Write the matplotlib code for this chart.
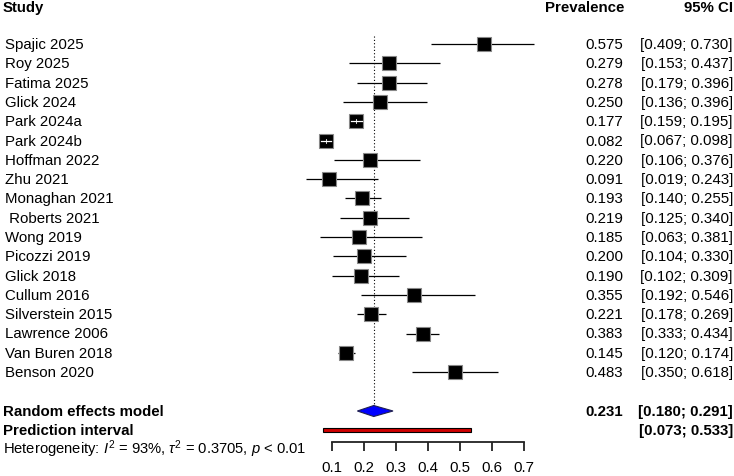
import matplotlib
matplotlib.use("Agg")
import matplotlib.pyplot as plt
from matplotlib.patches import Polygon, Rectangle

plt.rcParams['font.family'] = ['Liberation Sans', 'DejaVu Sans']
plt.rcParams['mathtext.fontset'] = 'custom'
plt.rcParams['mathtext.rm'] = 'Liberation Sans'
plt.rcParams['mathtext.it'] = 'Liberation Sans:italic'

# study data
studies = ["Spajic 2025", "Roy 2025", "Fatima 2025", "Glick 2024", "Park 2024a",
           "Park 2024b", "Hoffman 2022", "Zhu 2021", "Monaghan 2021", " Roberts 2021",
           "Wong 2019", "Picozzi 2019", "Glick 2018", "Cullum 2016", "Silverstein 2015",
           "Lawrence 2006", "Van Buren 2018", "Benson 2020"]
prev = [0.575, 0.279, 0.278, 0.250, 0.177, 0.082, 0.220, 0.091, 0.193, 0.219,
        0.185, 0.200, 0.190, 0.355, 0.221, 0.383, 0.145, 0.483]
lower = [0.409, 0.153, 0.179, 0.136, 0.159, 0.067, 0.106, 0.019, 0.140, 0.125,
         0.063, 0.104, 0.102, 0.192, 0.178, 0.333, 0.120, 0.350]
upper = [0.730, 0.437, 0.396, 0.396, 0.195, 0.098, 0.376, 0.243, 0.255, 0.340,
         0.381, 0.330, 0.309, 0.546, 0.269, 0.434, 0.174, 0.618]

re_est, re_lo, re_hi = 0.231, 0.180, 0.291
pi_lo, pi_hi = 0.073, 0.533
ticks = [0.1, 0.2, 0.3, 0.4, 0.5, 0.6, 0.7]

W, H = 734, 477
fig = plt.figure(figsize=(W / 100, H / 100), dpi=100)

# forest panel: x from 0 to 0.8, y in pixel rows (top = 0)
x0_px, x1_px = 299.6, 556.4
ax = fig.add_axes([x0_px / W, 0, (x1_px - x0_px) / W, 1])
ax.set_xlim(0, 0.8)
ax.set_ylim(H, 0)
ax.axis('off')

row_y = [45 + i * 19.3 for i in range(len(studies))]
y_re, y_pi, y_het = 412, 431, 449
y_axis = 443

def ftxt(x, y, s, size=10.8, **kw):
    fig.text(x / W, 1 - y / H, s, va='center', fontsize=size, **kw)

# headers
ftxt(3, 8, "Study", fontweight='bold')
ftxt(624, 8, "Prevalence", fontweight='bold', ha='right')
ftxt(733, 8, "95% CI", fontweight='bold', ha='right')

# reference line
ax.plot([re_est, re_est], [37, 406], ls=(0, (1, 2)), color='black', lw=0.8, clip_on=False)

box_half = 0.0205
for y, name, p, lo, hi in zip(row_y, studies, prev, lower, upper):
    ax.plot([lo, hi], [y, y], color='black', lw=0.9, solid_capstyle='butt', clip_on=False)
    ax.plot(p, y, marker='s', ms=9.4, mfc='black', mec='#888888', mew=0.8, clip_on=False)
    if lo > p - box_half and hi < p + box_half:
        ax.plot([lo, hi], [y, y], color='white', lw=0.9, clip_on=False)
        ax.plot([p, p], [y - 2, y + 2], color='white', lw=0.6, clip_on=False)
    ftxt(5, y, name)
    ftxt(623, y, f"{p:.3f}", ha='right')
    ftxt(733, y, f"[{lo:.3f}; {hi:.3f}]", ha='right')

# random effects diamond
ax.add_patch(Polygon([[re_lo, y_re], [re_est, y_re - 5.5], [re_hi, y_re], [re_est, y_re + 5.5]],
                     closed=True, facecolor='#0000ff', edgecolor='#202050', lw=0.8))
ftxt(3, y_re, "Random effects model", fontweight='bold')
ftxt(623, y_re, f"{re_est:.3f}", ha='right', fontweight='bold')
ftxt(733, y_re, f"[{re_lo:.3f}; {re_hi:.3f}]", ha='right', fontweight='bold')

# prediction interval
ax.add_patch(Rectangle((pi_lo, y_pi - 2), pi_hi - pi_lo, 4,
                       facecolor='#d00000', edgecolor='black', lw=0.8))
ftxt(3, y_pi, "Prediction interval", fontweight='bold')
ftxt(733, y_pi, f"[{pi_lo:.3f}; {pi_hi:.3f}]", ha='right', fontweight='bold')

ftxt(3, y_het, r"Heterogeneity: $I^2$ = 93%, $\tau^2$ = 0.3705, $p$ < 0.01", size=10.6)

# x axis drawn on the forest panel
ax.plot([ticks[0], ticks[-1]], [y_axis, y_axis], color='#222222', lw=1.3,
        solid_capstyle='projecting', clip_on=False, zorder=5)
ax.vlines(ticks, y_axis, y_axis + 9, color='#222222', lw=1.3, clip_on=False, zorder=5)
for t in ticks:
    ax.text(t, 468, f"{t:.1f}", ha='center', va='center', fontsize=10.8, clip_on=False)

fig.savefig("out.png", dpi=100)
